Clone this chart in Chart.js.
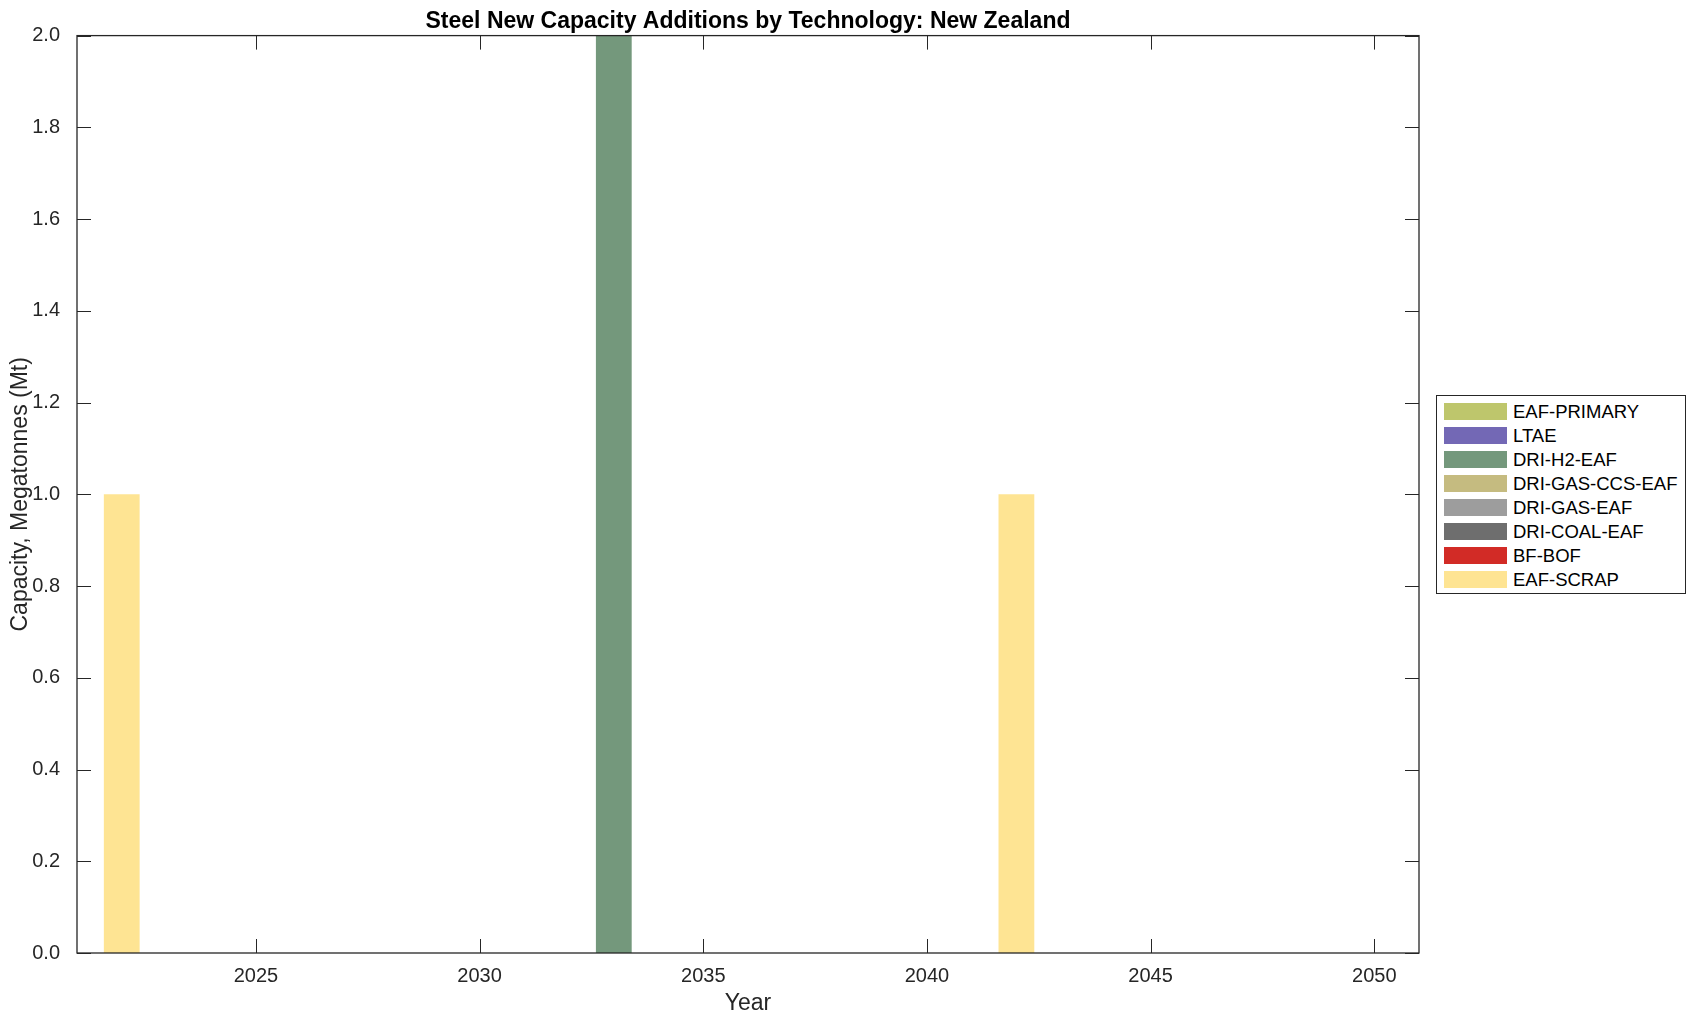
<!DOCTYPE html>
<html>
<head>
<meta charset="utf-8">
<script src="https://cdn.jsdelivr.net/npm/chart.js@4.4.1/dist/chart.umd.min.js"></script>
<style>
  body { margin: 0; background: #fff; }
  #wrap { position: relative; width: 1696px; height: 1021px; }
  #legend {
    position: absolute; left: 1436px; top: 395px; width: 248px; height: 197px;
    border: 1px solid #262626; background: #fff;
    font-family: "Liberation Sans", Arial, Helvetica, sans-serif; font-size: 18.5px; color: #000;
  }
  #legend .row { position: absolute; left: 7px; height: 17px; }
  #legend .sw { position: absolute; left: 0; top: 0; width: 63px; height: 17px; }
  #legend .lbl { position: absolute; left: 69px; top: -2px; white-space: nowrap; line-height: 21px; }
</style>
</head>
<body>
<div id="wrap">
  <canvas id="chart" width="1696" height="1021"></canvas>
  <div id="legend"></div>
</div>
<script>
// years on the x axis
const years = [2022, 2023, 2024, 2025, 2026, 2027, 2028, 2029, 2030, 2031, 2032, 2033, 2034, 2035, 2036,
               2037, 2038, 2039, 2040, 2041, 2042, 2043, 2044, 2045, 2046, 2047, 2048, 2049, 2050];

// new capacity per technology (Mt)
const eafScrap     = [1, 0, 0, 0, 0, 0, 0, 0, 0, 0, 0, 0, 0, 0, 0, 0, 0, 0, 0, 0, 1, 0, 0, 0, 0, 0, 0, 0, 0];
const bfBof        = [0, 0, 0, 0, 0, 0, 0, 0, 0, 0, 0, 0, 0, 0, 0, 0, 0, 0, 0, 0, 0, 0, 0, 0, 0, 0, 0, 0, 0];
const driCoalEaf   = [0, 0, 0, 0, 0, 0, 0, 0, 0, 0, 0, 0, 0, 0, 0, 0, 0, 0, 0, 0, 0, 0, 0, 0, 0, 0, 0, 0, 0];
const driGasEaf    = [0, 0, 0, 0, 0, 0, 0, 0, 0, 0, 0, 0, 0, 0, 0, 0, 0, 0, 0, 0, 0, 0, 0, 0, 0, 0, 0, 0, 0];
const driGasCcsEaf = [0, 0, 0, 0, 0, 0, 0, 0, 0, 0, 0, 0, 0, 0, 0, 0, 0, 0, 0, 0, 0, 0, 0, 0, 0, 0, 0, 0, 0];
const driH2Eaf     = [0, 0, 0, 0, 0, 0, 0, 0, 0, 0, 0, 2, 0, 0, 0, 0, 0, 0, 0, 0, 0, 0, 0, 0, 0, 0, 0, 0, 0];
const ltae         = [0, 0, 0, 0, 0, 0, 0, 0, 0, 0, 0, 0, 0, 0, 0, 0, 0, 0, 0, 0, 0, 0, 0, 0, 0, 0, 0, 0, 0];
const eafPrimary   = [0, 0, 0, 0, 0, 0, 0, 0, 0, 0, 0, 0, 0, 0, 0, 0, 0, 0, 0, 0, 0, 0, 0, 0, 0, 0, 0, 0, 0];

// tick values
const xTicks = [2025, 2030, 2035, 2040, 2045, 2050];
const yTicks = [0, 0.2, 0.4, 0.6, 0.8, 1.0, 1.2, 1.4, 1.6, 1.8, 2.0];

const FONT = '"Liberation Sans", Arial, Helvetica, sans-serif';
const INK = '#262626';

// bottom of the stack first
const series = [
  { label: 'EAF-SCRAP',       data: eafScrap,     color: '#fee493' },
  { label: 'BF-BOF',          data: bfBof,        color: '#d22b26' },
  { label: 'DRI-COAL-EAF',    data: driCoalEaf,   color: '#6e6e6e' },
  { label: 'DRI-GAS-EAF',     data: driGasEaf,    color: '#9d9d9d' },
  { label: 'DRI-GAS-CCS-EAF', data: driGasCcsEaf, color: '#c5bb80' },
  { label: 'DRI-H2-EAF',      data: driH2Eaf,     color: '#74987c' },
  { label: 'LTAE',            data: ltae,         color: '#7368b5' },
  { label: 'EAF-PRIMARY',     data: eafPrimary,   color: '#bec66c' }
];

// frame and inward ticks like the original
const framePlugin = {
  id: 'frame',
  afterLayout(chart) {
    // center the title over the plot box, not the whole canvas
    const t = chart.titleBlock;
    if (t) { t.left = chart.chartArea.left; t.right = chart.chartArea.right; }
  },
  afterDraw(chart) {
    const { ctx, chartArea: a, scales } = chart;
    const len = 14;
    ctx.save();
    ctx.strokeStyle = INK;
    ctx.lineWidth = 1.3;
    ctx.strokeRect(a.left, a.top, a.right - a.left, a.bottom - a.top);
    ctx.beginPath();
    xTicks.forEach(v => {
      const x = Math.round(scales.x.getPixelForValue(v)) + 0.5;
      ctx.moveTo(x, a.bottom); ctx.lineTo(x, a.bottom - len);
      ctx.moveTo(x, a.top); ctx.lineTo(x, a.top + len);
    });
    yTicks.forEach(v => {
      const y = Math.round(scales.y.getPixelForValue(v)) + 0.5;
      ctx.moveTo(a.left, y); ctx.lineTo(a.left + len, y);
      ctx.moveTo(a.right, y); ctx.lineTo(a.right - len, y);
    });
    ctx.lineWidth = 1;
    ctx.stroke();
    ctx.restore();
  }
};

const chart = new Chart(document.getElementById('chart').getContext('2d'), {
  type: 'bar',
  data: {
    datasets: series.map(s => ({
      label: s.label,
      data: years.map((y, i) => ({ x: y, y: s.data[i] })),
      backgroundColor: s.color,
      borderWidth: 0,
      barPercentage: 1,
      categoryPercentage: 0.8
    }))
  },
  options: {
    responsive: false,
    animation: false,
    layout: { padding: { left: 0, right: 277, top: 0, bottom: 0 } },
    plugins: {
      legend: { display: false },
      tooltip: { enabled: false },
      title: {
        display: true,
        text: 'Steel New Capacity Additions by Technology: New Zealand',
        color: '#000',
        font: { family: FONT, size: 23, weight: 'bold' },
        padding: { top: 8, bottom: 0 }
      }
    },
    scales: {
      x: {
        type: 'linear',
        stacked: true,
        min: 2021,
        max: 2051,
        offset: false,
        grid: { display: false },
        border: { display: false },
        afterBuildTicks: s => { s.ticks = xTicks.map(v => ({ value: v })); },
        afterFit: s => { s.height = 68; },
        ticks: {
          color: INK,
          font: { family: FONT, size: 20 },
          padding: 3,
          maxRotation: 0,
          callback: v => String(v)
        },
        title: {
          display: true, text: 'Year', color: INK,
          font: { family: FONT, size: 23 },
          padding: { top: 0, bottom: 4 }
        }
      },
      y: {
        stacked: true,
        min: 0,
        max: 2,
        grid: { display: false },
        border: { display: false },
        afterBuildTicks: s => { s.ticks = yTicks.map(v => ({ value: v })); },
        afterFit: s => { s.width = 77; },
        ticks: {
          color: INK,
          font: { family: FONT, size: 20 },
          padding: 9,
          callback: v => v.toFixed(1)
        },
        title: {
          display: true, text: 'Capacity, Megatonnes (Mt)', color: INK,
          font: { family: FONT, size: 23 },
          padding: { top: 7, bottom: 0 }
        }
      }
    }
  },
  plugins: [framePlugin]
});

// html legend, top entry = top of stack
const legendEl = document.getElementById('legend');
series.slice().reverse().forEach((s, i) => {
  const row = document.createElement('div');
  row.className = 'row';
  row.style.top = (7 + i * 24) + 'px';
  row.innerHTML = '<span class="sw" style="background:' + s.color + '"></span><span class="lbl">' + s.label + '</span>';
  legendEl.appendChild(row);
});
</script>
</body>
</html>
